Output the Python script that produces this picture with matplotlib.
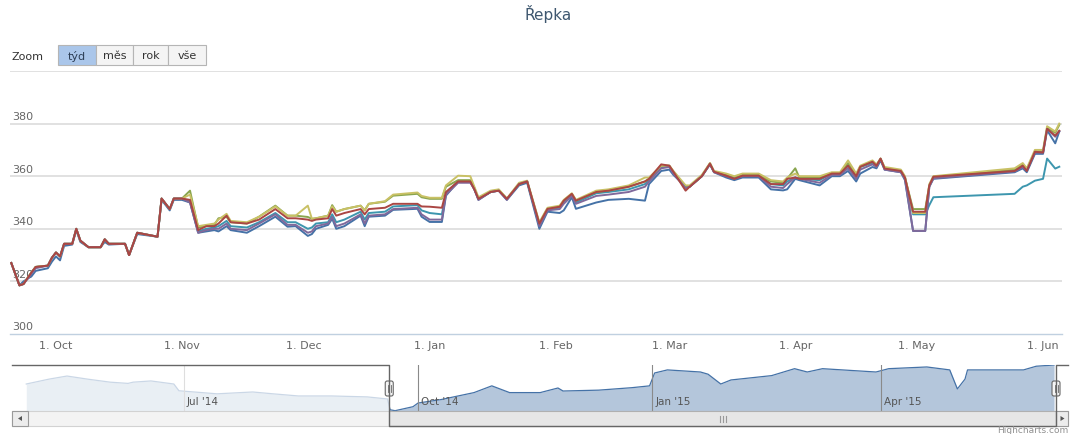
import matplotlib
matplotlib.use("Agg")
import matplotlib.pyplot as plt
import matplotlib.dates as mdates
import matplotlib.transforms as mtransforms
from matplotlib.patches import Rectangle, FancyBboxPatch, Polygon
import pandas as pd

# ---- data ----
dates = [
    # Sep 2014
    "2014-09-20", "2014-09-22", "2014-09-23", "2014-09-25", "2014-09-26", "2014-09-29", "2014-09-30",
    # Oct
    "2014-10-01", "2014-10-02", "2014-10-03", "2014-10-05", "2014-10-06", "2014-10-07", "2014-10-09",
    "2014-10-12", "2014-10-13", "2014-10-14", "2014-10-18", "2014-10-19", "2014-10-21", "2014-10-26",
    "2014-10-27", "2014-10-29", "2014-10-30",
    # Nov
    "2014-11-01", "2014-11-03", "2014-11-05", "2014-11-07", "2014-11-09", "2014-11-10", "2014-11-12",
    "2014-11-13", "2014-11-17", "2014-11-20", "2014-11-24", "2014-11-27", "2014-11-29",
    # Dec
    "2014-12-02", "2014-12-03", "2014-12-04", "2014-12-07", "2014-12-08", "2014-12-09", "2014-12-11",
    "2014-12-15", "2014-12-16", "2014-12-17", "2014-12-21", "2014-12-23", "2014-12-29", "2014-12-30",
    # Jan 2015
    "2015-01-01", "2015-01-04", "2015-01-05", "2015-01-08", "2015-01-11", "2015-01-12", "2015-01-13",
    "2015-01-16", "2015-01-18", "2015-01-20", "2015-01-23", "2015-01-25", "2015-01-28", "2015-01-30",
    # Feb
    "2015-02-02", "2015-02-03", "2015-02-05", "2015-02-06", "2015-02-11", "2015-02-14", "2015-02-19",
    "2015-02-23", "2015-02-24", "2015-02-27",
    # Mar
    "2015-03-01", "2015-03-02", "2015-03-05", "2015-03-06", "2015-03-09", "2015-03-11", "2015-03-12",
    "2015-03-15", "2015-03-17", "2015-03-19", "2015-03-23", "2015-03-26", "2015-03-29", "2015-03-30",
    # Apr
    "2015-04-01", "2015-04-02", "2015-04-07", "2015-04-10", "2015-04-12", "2015-04-14", "2015-04-16",
    "2015-04-17", "2015-04-20", "2015-04-21", "2015-04-22", "2015-04-23", "2015-04-27", "2015-04-28",
    "2015-04-30",
    # May
    "2015-05-03", "2015-05-04", "2015-05-05", "2015-05-25", "2015-05-27", "2015-05-28", "2015-05-30",
    # Jun
    "2015-06-01", "2015-06-02", "2015-06-04", "2015-06-05",
]

red = [
    327, 318.5, 319, 323.5, 325.5, 326, 329,
    331, 329.5, 334.3, 334.3, 340, 335.5, 333, 333, 336, 334.3, 334.3, 330, 338.5, 337, 351.5, 347.5, 351.5,
    351.5, 351, 339.5, 341, 341, 342, 345, 342.5, 342, 343.5, 347.5, 344, 344,
    343.5, 343, 343.5, 344, 347.5, 345, 346, 347.5, 345.5, 347.5, 348, 349.5, 349.5, 348.5,
    348.4, 348, 354, 358, 358, 355, 351.4, 354, 354.5, 351.4, 357, 358, 342, 347.6,
    348.4, 350.7, 353.3, 350.7, 354, 354.5, 356, 358, 359, 364.5,
    364, 361.7, 354.5, 356, 360, 364.8, 361.7, 360.2, 359, 360.2, 360.2, 357, 357, 359,
    359.5, 359, 359, 361, 361, 364, 360, 363.6, 365.5, 364, 366.7, 362.9, 362, 359.5, 346.5,
    346.5, 356.5, 359.8, 362, 364, 362, 369.3,
    369, 378, 375.4, 377.3,
]
blue = [
    327, 318.5, 320, 322, 324, 325, 327.5,
    329.5, 328, 333.5, 334, 339.5, 335, 333, 333, 335, 334, 334.3, 330, 338, 337, 351, 347, 351,
    351, 350, 338.5, 339, 339.5, 339, 341, 339.5, 338.5, 341, 344.6, 340.8, 341,
    337.3, 338, 340, 341.5, 343.8, 340, 341, 345, 341, 344.6, 345, 347.2, 347.6, 344.6,
    342.6, 342.6, 352.6, 358, 358, 355, 351, 354, 354.5, 351, 356.5, 357.5, 340, 346.5,
    346, 347, 352, 347.6, 350, 351, 351.4, 350.7, 357, 362,
    362.5, 360.5, 356, 356, 360, 364.5, 361.5, 359.5, 358.5, 359.5, 359.5, 355, 354.6, 355,
    359, 358.5, 356.5, 360, 360, 362, 358, 361, 363.5, 363, 366, 362.5, 361.5, 358.5, 339.2,
    339.2, 356, 359, 361.5, 363, 361.5, 368.5,
    368.5, 377.5, 372.5, 377,
]
green = [
    327, 318.5, 319, 323.5, 325.5, 326, 329,
    331, 329.5, 334.3, 334.3, 340, 335.5, 333, 333, 336, 334.3, 334.3, 330, 338.5, 337, 351.5, 347.5, 351.5,
    351.5, 354.5, 340.5, 341, 341.5, 344, 344.5, 342.5, 342, 344.6, 348.8, 345, 345,
    344.5, 343.8, 344, 345, 349, 346.5, 347.5, 348.8, 347, 349.5, 350.3, 352.6, 353.3, 352,
    351.4, 351.4, 356, 358.5, 358.5, 355.5, 351.5, 354, 354.8, 351.4, 357, 358, 342, 347.6,
    348.4, 350.7, 353.3, 350.7, 354, 354.5, 356, 358, 359, 364,
    364, 361.7, 356, 356, 360, 364.8, 361.7, 360.5, 359.5, 360.5, 360.5, 358, 357.5, 359,
    363, 359.5, 359.5, 361, 361, 365, 360.5, 363.6, 365.5, 364, 366.7, 363, 362, 359.5, 347.5,
    347.5, 356.5, 359.8, 362.5, 364.5, 362.5, 369.5,
    369.5, 378.5, 376.5, 379.5,
]
purple = [
    327, 318.5, 319, 323, 325, 326, 329,
    331, 329.5, 334.3, 334.3, 340, 335.5, 333, 333, 336, 334.3, 334.3, 330, 338.5, 337, 351.5, 347.5, 351.5,
    351.5, 350, 338.5, 339.5, 340, 340, 342, 340, 339.5, 342, 345.5, 341.5, 341.5,
    338.5, 339, 341, 342, 344.5, 341, 342, 345.5, 342, 345, 345.5, 347.5, 348, 345.5,
    343.5, 343.5, 353, 357.5, 357.5, 355, 351, 354, 354.5, 351, 357, 358, 341, 347,
    347.5, 349.5, 352.5, 349.5, 352.5, 353, 354, 356, 358, 363,
    363.5, 361, 355.5, 356, 360, 364.5, 361.5, 360, 359, 360, 360, 356, 355.5, 357,
    359.5, 359, 357.5, 360.5, 360.5, 363, 359, 362.5, 364.5, 363.5, 366.5, 362.5, 361.5, 359, 339.2,
    339.2, 356, 359.2, 361.8, 363.5, 362, 369,
    369, 378, 375, 377,
]
yellow = [
    327, 318.5, 319, 323.5, 325.5, 326, 329,
    331, 329.5, 334.3, 334.3, 340, 335.5, 333, 333, 336, 334.3, 334.3, 330, 338.5, 337, 351.5, 347.5, 351.5,
    351.5, 353, 341, 341.5, 342, 343.5, 345.7, 343, 342.5, 344.6, 348.5, 345, 345,
    348.8, 343.8, 344, 345, 348.5, 346.5, 347.5, 348.8, 347, 349.5, 350.5, 353, 353.8, 352.5,
    351.8, 351.8, 356.5, 360.2, 360, 356, 352, 354.5, 355, 351.5, 357.5, 358.3, 342.5, 348,
    348.8, 351, 353.5, 351, 354.5, 355, 356.5, 359.5, 359.5, 364,
    364, 362, 356.5, 356.5, 360.5, 365, 362, 361, 360, 361, 361, 358.5, 358, 359.5,
    361, 360, 360, 361.5, 361.5, 366, 361, 364, 366, 364.5, 366.7, 363.5, 362.5, 360, 346,
    346, 357, 360, 363, 365, 363, 370,
    370, 379, 377, 380,
]
teal = [
    327, 318.5, 319, 323.5, 325.5, 326, 329,
    331, 329.5, 334.3, 334.3, 340, 335.5, 333, 333, 336, 334.3, 334.3, 330, 338.5, 337, 351.5, 347.5, 351.5,
    351.5, 350.5, 339, 340, 340.5, 341, 343, 341, 340.5, 342.5, 346, 342.5, 342.5,
    340, 340.5, 342, 342.5, 345.5, 342.5, 343.5, 346.5, 343.5, 346, 346.5, 348.5, 349, 347,
    346, 345.5, 353.5, 358, 358, 355, 351.4, 354, 354.5, 351.4, 357, 358, 341.5, 347.5,
    348, 350, 353, 350, 353.5, 354, 355, 357, 358.5, 363.5,
    363.5, 361.5, 355.5, 356, 360, 364.8, 361.7, 360.2, 359, 360.2, 360.2, 357, 356.5, 358,
    359.5, 359, 358.5, 361, 361, 364, 360, 363.5, 365, 364, 366.5, 363, 362, 359.5, 345.5,
    345.5, 349, 352, 353.3, 356, 356.5, 358.3,
    359, 366.7, 362.9, 363.6,
]

y_ticks = [300, 320, 340, 360, 380, 400]
x_tick_dates = ["2014-10-01", "2014-11-01", "2014-12-01", "2015-01-01", "2015-02-01",
                "2015-03-01", "2015-04-01", "2015-05-01", "2015-06-01"]
x_tick_labels = ["1. Oct", "1. Nov", "1. Dec", "1. Jan", "1. Feb", "1. Mar", "1. Apr", "1. May", "1. Jun"]

# navigator series (whole history)
nav_dates = [
    "2014-04-30", "2014-05-09", "2014-05-16", "2014-05-24", "2014-06-02", "2014-06-09", "2014-06-11",
    "2014-06-18", "2014-06-27", "2014-06-29", "2014-07-14", "2014-07-28", "2014-08-05", "2014-08-15",
    "2014-08-28", "2014-09-11", "2014-09-19", "2014-09-20", "2014-09-22", "2014-09-29", "2014-10-01",
    "2014-10-10", "2014-10-23", "2014-10-30", "2014-11-06", "2014-11-18", "2014-11-25", "2014-11-27",
    "2014-12-11", "2014-12-24", "2014-12-31", "2015-01-02", "2015-01-07", "2015-01-20", "2015-01-23",
    "2015-01-28", "2015-02-01", "2015-02-17", "2015-02-26", "2015-03-03", "2015-03-09", "2015-03-30",
    "2015-04-04", "2015-04-19", "2015-04-28", "2015-05-01", "2015-05-04", "2015-05-05", "2015-05-27",
    "2015-06-01", "2015-06-08",
]
nav_values = [
    354, 362, 367, 362, 357, 355, 357,
    359, 354, 343, 338, 341, 338, 334.5,
    334.5, 333, 329.6, 312, 310.5, 317, 323,
    328.6, 340, 351, 340, 340, 347.5, 342.6,
    344, 348, 351, 372, 377, 373.6, 370,
    354, 360.6, 367.7, 379, 373.6, 379, 373.6,
    379, 381.8, 377, 346, 362, 377, 377,
    383, 385,
]
nav_tick_dates = ["2014-07-01", "2014-10-01", "2015-01-01", "2015-04-01"]
nav_tick_labels = ["Jul '14", "Oct '14", "Jan '15", "Apr '15"]

zoom_buttons = ["týd", "měs", "rok", "vše"]

# ---- layout helpers (pixel boxes of the 1070x435 picture) ----
W, H = 1070, 435


def box(x0, y0, x1, y1):
    return [x0 / W, 1 - y1 / H, (x1 - x0) / W, (y1 - y0) / H]


fig = plt.figure(figsize=(W / 100, H / 100), dpi=100)
fig.patch.set_facecolor("white")

# ---- main chart ----
ax = fig.add_axes(box(10, 72, 1062, 335))
t = pd.to_datetime(dates)
series = [
    (teal, "#3D96AE", 1),
    (blue, "#4572A7", 2),
    (green, "#89A54E", 3),
    (yellow, "#C9C165", 4),
    (purple, "#80699B", 5),
    (red, "#AA4643", 6),
]
for vals, col, z in series:
    ax.plot(t, vals, color=col, lw=1.4, zorder=z + 2, solid_joinstyle="round")

main_left = pd.Timestamp("2014-09-19 16:20")
main_right = pd.Timestamp("2015-06-05 16:00")
ax.set_xlim(main_left, main_right)
ax.set_ylim(y_ticks[0], y_ticks[-1])

for v in y_ticks[1:]:
    ax.axhline(v, color="#dcdcdc", lw=1.2, zorder=0)
lab_tr = mtransforms.blended_transform_factory(ax.transAxes, ax.transData)
for v in y_ticks[:-1]:
    ax.text(0.002, v + 2.9, str(v), transform=lab_tr, ha="left", va="center",
            fontsize=8, color="#666666", zorder=1)

ax.set_xticks(pd.to_datetime(x_tick_dates))
ax.set_xticklabels(x_tick_labels)
ax.tick_params(axis="x", length=0, pad=4, labelsize=8, labelcolor="#666666")
ax.set_yticks([])
for s in ["top", "left", "right"]:
    ax.spines[s].set_visible(False)
ax.spines["bottom"].set_color("#C0D0E0")
ax.spines["bottom"].set_linewidth(1)
ax.patch.set_alpha(0)

# ---- navigator ----
nav_x0, nav_x1 = 12, 1056
nav = fig.add_axes(box(nav_x0, 366, nav_x1, 412))
nav_left = pd.Timestamp("2014-04-24 09:20")
nav_right = pd.Timestamp("2015-06-08 18:30")
nt = pd.to_datetime(nav_dates)
nav.fill_between(nt, nav_values, 300, color="#4572A7", alpha=0.4, lw=0, zorder=1)
nav.plot(nt, nav_values, color="#4572A7", lw=0.9, zorder=2)
nav.set_xlim(nav_left, nav_right)
nav.set_ylim(310, 385)
nav.axis("off")

ntr = mtransforms.blended_transform_factory(nav.transData, nav.transAxes)
ntr_lab = mtransforms.offset_copy(ntr, fig=fig, x=3, y=0, units="dots")
for d, lab in zip(pd.to_datetime(nav_tick_dates), nav_tick_labels):
    nav.axvline(d, color="#8a8a8a", lw=0.8, zorder=3)
    nav.text(d, 0.22, lab, transform=ntr_lab, ha="left", va="center",
             fontsize=7.5, color="#555555", zorder=5)

# mask over the unselected part
nav.axvspan(nav_left, main_left, color="white", alpha=0.72, lw=0, zorder=4)

# pixel position of the selection edges
span = mdates.date2num(nav_right) - mdates.date2num(nav_left)
sel0 = nav_x0 + (mdates.date2num(main_left) - mdates.date2num(nav_left)) / span * (nav_x1 - nav_x0)
sel1 = nav_x1

# ---- overlay: title, range buttons, scrollbar ----
ov = fig.add_axes([0, 0, 1, 1])
ov.set_xlim(0, W)
ov.set_ylim(H, 0)
ov.axis("off")
ov.patch.set_alpha(0)

ov.text(548, 14, "Řepka", ha="center", va="center", fontsize=11, color="#3E576F")
ov.text(12, 57, "Zoom", ha="left", va="center", fontsize=8, color="#333333")

bx = [58, 96, 133, 168, 206]
for i, lab in enumerate(zoom_buttons):
    fc = "#aac6ea" if i == 0 else "#f4f4f4"
    ov.add_patch(Rectangle((bx[i], 46), bx[i + 1] - bx[i], 20, fc=fc, ec="#b5b5b5", lw=0.8))
    ov.text((bx[i] + bx[i + 1]) / 2, 56, lab, ha="center", va="center",
            fontsize=8, color="#2d3f57" if i == 0 else "#333333")

# scrollbar
ov.add_patch(Rectangle((12, 412), 1056, 15, fc="#f3f3f3", ec="#d2d2d2", lw=0.8))
ov.add_patch(Rectangle((sel0, 412), sel1 - sel0, 15, fc="#e6e6e6", ec="#b0b0b0", lw=0.8))
ov.add_patch(Rectangle((12, 412), 16, 15, fc="#ececec", ec="#9a9a9a", lw=0.8))
ov.add_patch(Polygon([(18, 419.5), (22, 417), (22, 422)], closed=True, fc="#555555", ec="none"))
ov.add_patch(Rectangle((1056, 412), 12, 15, fc="#ececec", ec="#9a9a9a", lw=0.8))
ov.add_patch(Polygon([(1064.5, 419.5), (1060.5, 417), (1060.5, 422)], closed=True, fc="#555555", ec="none"))
gc = (sel0 + sel1) / 2
for dx in (-3, 0, 3):
    ov.plot([gc + dx, gc + dx], [417, 423], color="#999999", lw=0.8)

# navigator outline
ov.plot([12, sel0, sel0, sel1, sel1, 1068], [366, 366, 427, 427, 366, 366], color="#666666", lw=1)

# handles
for hx in (sel0, sel1):
    ov.add_patch(FancyBboxPatch((hx - 4, 382), 8, 15, boxstyle="round,pad=0,rounding_size=2",
                                fc="#f5f5f5", ec="#666666", lw=0.8))
    for dx in (-1.5, 1.5):
        ov.plot([hx + dx, hx + dx], [386, 393], color="#666666", lw=0.6)

ov.text(1068, 431, "Highcharts.com", ha="right", va="center", fontsize=6.5, color="#909090")

fig.savefig("out.png", dpi=100, facecolor="white")
